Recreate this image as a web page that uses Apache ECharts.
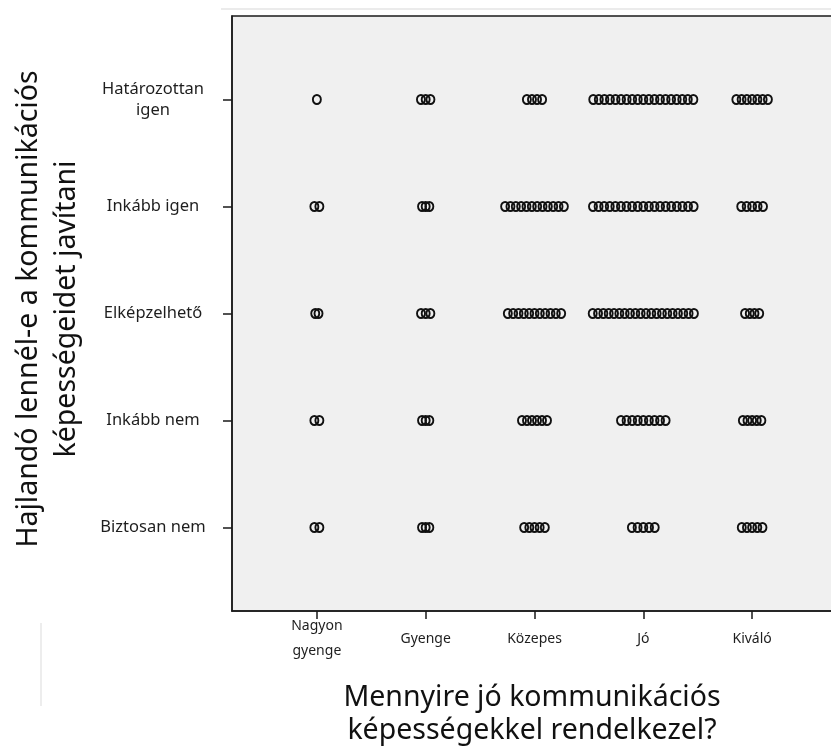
<!DOCTYPE html>
<html>
<head>
<meta charset="utf-8">
<script src="https://cdn.jsdelivr.net/npm/echarts@6/dist/echarts.min.js"></script>
<style>
  html, body { margin: 0; padding: 0; background: #fff; }
  #chart { width: 831px; height: 747px; }
</style>
</head>
<body>
<div id="chart"></div>
<script>
// kategóriák (x: önértékelés, y: hajlandóság)
const xCats = ['Nagyon\ngyenge', 'Gyenge', 'Közepes', 'Jó', 'Kiváló'];
const yCats = ['Biztosan nem', 'Inkább nem', 'Elképzelhető', 'Inkább igen', 'Határozottan\nigen'];

// pontok száma cellánként, soronként (y kategória), oszlopok: xCats sorrendben
const countBiztosanNem = [2, 3, 5, 5, 5];
const countInkabbNem = [2, 3, 6, 9, 5];
const countElkepzelheto = [2, 3, 11, 20, 4];
const countInkabbIgen = [2, 3, 12, 19, 5];
const countHatarozottan = [1, 3, 4, 19, 7];

// a szórás (jitter) szélessége cellánként, x egységben
const spreadBiztosanNem = [0.046, 0.067, 0.19, 0.21, 0.19];
const spreadInkabbNem = [0.046, 0.067, 0.23, 0.41, 0.17];
const spreadElkepzelheto = [0.03, 0.086, 0.49, 0.93, 0.13];
const spreadInkabbIgen = [0.046, 0.067, 0.54, 0.925, 0.2];
const spreadHatarozottan = [0, 0.087, 0.14, 0.92, 0.29];

const xTicks = [1, 2, 3, 4, 5];
const yTicks = [1, 2, 3, 4, 5];

const counts = [countBiztosanNem, countInkabbNem, countElkepzelheto, countInkabbIgen, countHatarozottan];
const spreads = [spreadBiztosanNem, spreadInkabbNem, spreadElkepzelheto, spreadInkabbIgen, spreadHatarozottan];

// pontok felrakása: a cella közepe körül egyenletesen szétterítve
const points = [];
counts.forEach((row, yi) => {
  row.forEach((n, xi) => {
    const w = spreads[yi][xi];
    for (let k = 0; k < n; k++) {
      const off = n > 1 ? -w / 2 + w * k / (n - 1) : 0;
      points.push([xTicks[xi] + off, yTicks[yi]]);
    }
  });
});

const chart = echarts.init(document.getElementById('chart'));
const font = '"Noto Sans", "DejaVu Sans", sans-serif';

chart.setOption({
  animation: false,
  grid: {
    left: 232,
    top: 16,
    width: 605,
    height: 595,
    show: true,
    backgroundColor: '#f0f0f0',
    borderColor: '#1a1a1a',
    borderWidth: 1.5,
    outerBoundsMode: 'none'
  },
  xAxis: {
    type: 'value',
    min: 0.22,
    max: 5.78,
    splitLine: { show: false },
    axisLine: { show: true, lineStyle: { color: '#1a1a1a', width: 1.5 } },
    axisTick: { show: true, length: 8, customValues: xTicks, lineStyle: { color: '#1a1a1a', width: 1.5 } },
    axisLabel: {
      customValues: xTicks,
      formatter: v => xCats[Math.round(v) - 1],
      margin: 28,
      verticalAlign: 'middle',
      fontFamily: font,
      fontSize: 14,
      lineHeight: 25,
      color: '#1e1e1e'
    }
  },
  yAxis: {
    type: 'value',
    min: 0.22,
    max: 5.78,
    splitLine: { show: false },
    axisLine: { show: true, lineStyle: { color: '#1a1a1a', width: 1.5 } },
    axisTick: { show: true, length: 9, customValues: yTicks, lineStyle: { color: '#1a1a1a', width: 1.5 } },
    axisLabel: {
      customValues: yTicks,
      formatter: v => yCats[Math.round(v) - 1],
      margin: 79,
      align: 'center',
      fontFamily: font,
      fontSize: 16.5,
      lineHeight: 21,
      color: '#1e1e1e'
    }
  },
  series: [{
    type: 'scatter',
    data: points,
    symbol: 'circle',
    symbolSize: [8, 9],
    itemStyle: {
      color: 'rgba(0,0,0,0)',
      borderColor: '#111',
      borderWidth: 2,
      opacity: 1
    },
    emphasis: { disabled: true }
  }],
  graphic: [
    {
      type: 'line',
      shape: { x1: 221, y1: 9, x2: 831, y2: 9 },
      style: { stroke: '#ebebeb', lineWidth: 2 },
      silent: true
    },
    {
      type: 'line',
      shape: { x1: 41, y1: 623, x2: 41, y2: 706 },
      style: { stroke: '#ededed', lineWidth: 2 },
      silent: true
    },
    {
      type: 'text',
      x: 532,
      y: 714,
      style: {
        text: 'Mennyire jó kommunikációs\nképességekkel rendelkezel?',
        font: '28.5px ' + font,
        lineHeight: 33,
        fill: '#111',
        textAlign: 'center',
        textVerticalAlign: 'middle'
      }
    },
    {
      type: 'text',
      x: 48,
      y: 309,
      rotation: Math.PI / 2,
      style: {
        text: 'Hajlandó lennél-e a kommunikációs\nképességeidet javítani',
        font: '28.5px ' + font,
        lineHeight: 38,
        fill: '#111',
        textAlign: 'center',
        textVerticalAlign: 'middle'
      }
    }
  ]
});
</script>
</body>
</html>
